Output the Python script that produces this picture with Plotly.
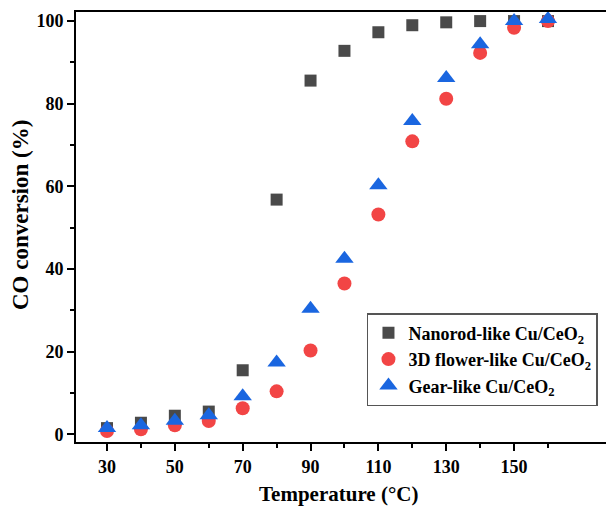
import plotly.graph_objects as go

temps = [30, 40, 50, 60, 70, 80, 90, 100, 110, 120, 130, 140, 150, 160]
nanorod = [1.5, 2.8, 4.5, 5.5, 15.5, 56.8, 85.6, 92.8, 97.3, 99.0, 99.7, 100.0, 100.0, 100.0]
flower = [0.8, 1.2, 2.2, 3.2, 6.3, 10.4, 20.3, 36.5, 53.2, 70.9, 81.2, 92.3, 98.4, 100.0]
gear = [1.5, 2.2, 3.3, 4.6, 9.2, 17.4, 30.4, 42.5, 60.3, 75.8, 86.2, 94.4, 100.0, 100.5]
names = ["Nanorod-like Cu/CeO<sub>2</sub>", "3D flower-like Cu/CeO<sub>2</sub>", "Gear-like Cu/CeO<sub>2</sub>"]
x_ticks = [30, 50, 70, 90, 110, 130, 150]
x_minor = [40, 60, 80, 100, 120, 140, 160]
y_ticks = [0, 20, 40, 60, 80, 100]
y_minor = [10, 30, 50, 70, 90]

FONT = "Liberation Serif"

fig = go.Figure()
fig.add_trace(go.Scatter(x=temps, y=nanorod, mode="markers", name=names[0],
                         marker=dict(symbol="square", size=12, color="#4a4a4a")))
fig.add_trace(go.Scatter(x=temps, y=flower, mode="markers", name=names[1],
                         marker=dict(symbol="circle", size=14, color="#f24545")))
fig.add_trace(go.Scatter(x=temps, y=gear, mode="markers", name=names[2],
                         marker=dict(symbol="triangle-up", size=16, color="#1a66e0")))

axis_font = dict(family=FONT, size=18, color="black", weight="bold")
fig.update_layout(
    width=606, height=507,
    margin=dict(l=76, r=0, t=12, b=65),
    paper_bgcolor="white", plot_bgcolor="white",
    font=dict(family=FONT, color="black"),
    xaxis=dict(range=[20.86, 177.1], tickvals=x_ticks, showgrid=False, zeroline=False,
               showline=True, linecolor="black", linewidth=2, mirror=True,
               ticks="outside", ticklen=7, tickwidth=2, tickcolor="black",
               tickfont=axis_font,
               minor=dict(tickvals=x_minor, ticks="outside", ticklen=4, tickwidth=2, tickcolor="black")),
    yaxis=dict(range=[-1.86, 102.2], tickvals=y_ticks, showgrid=False, zeroline=False,
               showline=True, linecolor="black", linewidth=2, mirror=False,
               ticks="outside", ticklen=7, tickwidth=2, tickcolor="black",
               tickfont=axis_font,
               minor=dict(tickvals=y_minor, ticks="outside", ticklen=4, tickwidth=2, tickcolor="black")),
    legend=dict(x=0.549, y=0.30, xanchor="left", yanchor="top",
                bgcolor="white", bordercolor="#555555", borderwidth=1.5,
                font=dict(family=FONT, size=18, color="black", weight="bold"),
                itemsizing="trace"),
    annotations=[
        dict(text="<b>Temperature (°C)</b>", xref="paper", yref="paper", x=(338 - 76) / 530, y=-(494 - 442) / 430,
             xanchor="center", yanchor="middle", showarrow=False,
             font=dict(family=FONT, size=21, color="black")),
        dict(text="<b>CO conversion (%)</b>", xref="paper", yref="paper", x=0, y=(442 - 215) / 430,
             xshift=-56, xanchor="center", yanchor="middle", textangle=-90, showarrow=False,
             font=dict(family=FONT, size=23, color="black")),
    ],
)

fig.write_html("out.html")
